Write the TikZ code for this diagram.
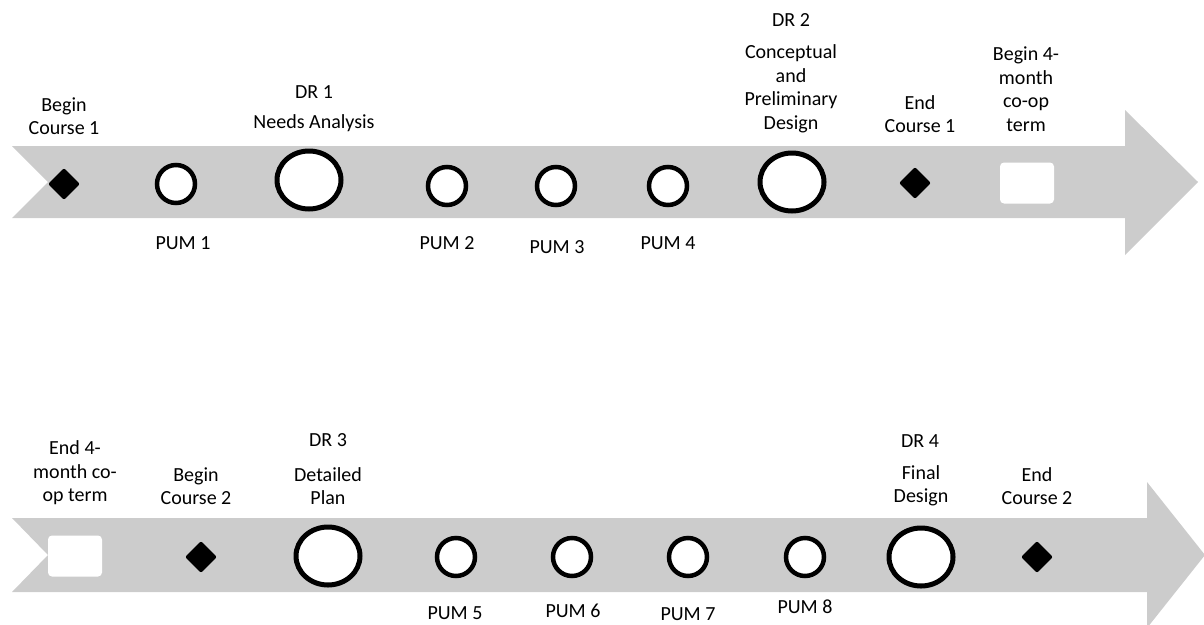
\documentclass[tikz,border=0pt]{standalone}
\usepackage{fontspec}
\setmainfont{Carlito}
\usetikzlibrary{shapes.geometric}
\definecolor{bandgray}{RGB}{204,204,204}

\begin{document}
\begin{tikzpicture}[x=1pt, y=-1pt, font=\fontsize{20}{23.5}\selectfont,
    pum/.style={circle, draw, line width=4.5pt, fill=white, minimum size=38pt, inner sep=0pt},
    review/.style={ellipse, draw, line width=5pt, fill=white, minimum width=64pt, minimum height=58pt, inner sep=0pt},
    course/.style={diamond, fill=black, minimum size=32pt, inner sep=0pt, rounded corners=2pt},
    coop/.style={rectangle, fill=white, rounded corners=4pt, minimum width=54pt, minimum height=41pt, inner sep=0pt},
    lbl/.style={align=center, inner sep=0pt}]

    \useasboundingbox (0,0) rectangle (1204,624);

    % Top arrow: first course and start of co-op
    \fill[bandgray] (12,146) -- (1125,146) -- (1125,110) -- (1198,182) -- (1125,255)
        -- (1125,218) -- (12,218) -- (48,182) -- cycle;

    \node[course] (begin1) at (64,184) {};
    \node[pum] (pum1) at (176,184) {};
    \node[review] (dr1) at (309,180) {};
    \node[pum] (pum2) at (447,186) {};
    \node[pum] (pum3) at (556,186) {};
    \node[pum] (pum4) at (668,186) {};
    \node[review] (dr2) at (792,182) {};
    \node[course] (end1) at (915,183) {};
    \node[coop] (coopstart) at (1027,183) {};

    % Labels above and below the top arrow
    \node[lbl] (begin1-l) at (64,116) {Begin\\Course 1};
    \node[lbl] (dr1-t) at (314,92) {DR 1};
    \node[lbl] (dr1-l) at (314,123) {Needs Analysis};
    \node[lbl] (pum1-l) at (183,243) {PUM 1};
    \node[lbl] (pum2-l) at (447,243) {PUM 2};
    \node[lbl] (pum3-l) at (557,247) {PUM 3};
    \node[lbl] (pum4-l) at (668,243) {PUM 4};
    \node[lbl] (dr2-t) at (791,20) {DR 2};
    \node[lbl] (dr2-l) at (791,89) {Conceptual\\and\\Preliminary\\Design};
    \node[lbl] (end1-l) at (920,114) {End\\Course 1};
    \node[lbl] (coopstart-l) at (1026,89) {Begin 4-\\month\\co-op\\term};

    % Bottom arrow: end of co-op and second course
    \fill[bandgray] (12,518) -- (1147,518) -- (1147,482) -- (1205,555) -- (1147,628)
        -- (1147,592) -- (12,592) -- (48,555) -- cycle;

    \node[coop] (coopend) at (75,556) {};
    \node[course] (begin2) at (201,557) {};
    \node[review] (dr3) at (328,556) {};
    \node[pum] (pum5) at (456,557) {};
    \node[pum] (pum6) at (572,557) {};
    \node[pum] (pum7) at (688,557) {};
    \node[pum] (pum8) at (805,557) {};
    \node[review] (dr4) at (921,557) {};
    \node[course] (end2) at (1037,557) {};

    % Labels above and below the bottom arrow
    \node[lbl] (coopend-l) at (75,473) {End 4-\\month co-\\op term};
    \node[lbl] (begin2-l) at (196,486) {Begin\\Course 2};
    \node[lbl] (dr3-t) at (328,440) {DR 3};
    \node[lbl] (dr3-l) at (328,486) {Detailed\\Plan};
    \node[lbl] (pum5-l) at (455,613) {PUM 5};
    \node[lbl] (pum6-l) at (573,611) {PUM 6};
    \node[lbl] (pum7-l) at (688,614) {PUM 7};
    \node[lbl] (pum8-l) at (805,607) {PUM 8};
    \node[lbl] (dr4-t) at (920,441) {DR 4};
    \node[lbl] (dr4-l) at (921,486) {Final\\Design};
    \node[lbl] (end2-l) at (1037,486) {End\\Course 2};

\end{tikzpicture}
\end{document}
